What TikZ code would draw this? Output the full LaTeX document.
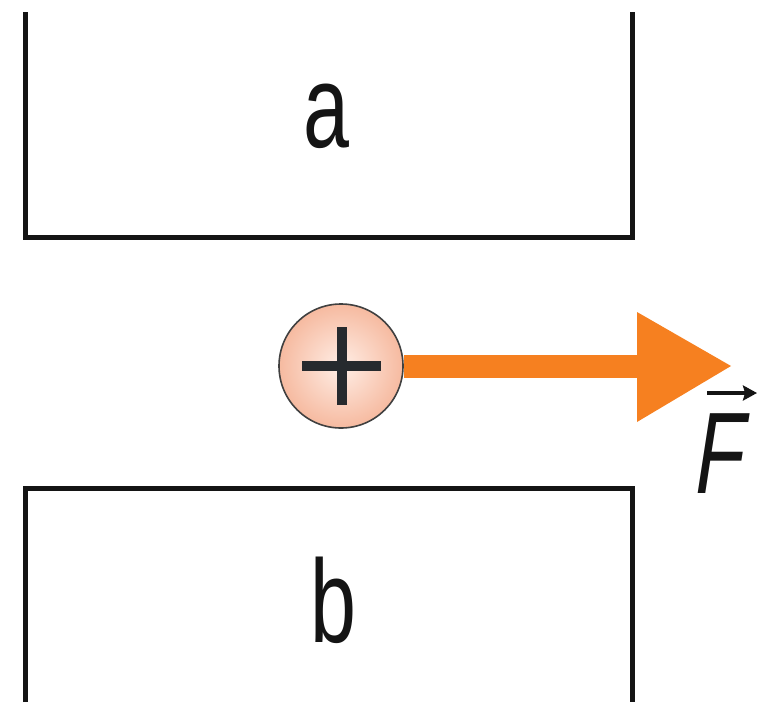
\documentclass[tikz,border=0pt]{standalone}
\usepackage{fontspec}
\setmainfont{Liberation Sans}
\usetikzlibrary{arrows.meta,calc}
\definecolor{forceorange}{RGB}{246,128,32}
\definecolor{chargeedge}{RGB}{246,186,160}
\definecolor{chargecenter}{RGB}{255,238,230}
\definecolor{plateline}{RGB}{20,20,20}
\definecolor{plusgray}{RGB}{38,42,46}
\tikzset{
  plate/.style={draw=plateline, line width=5pt, line join=miter},
  letter/.style={font=\fontsize{118}{118}\selectfont, text=plateline, inner sep=0pt, anchor=base, xscale=0.70},
  charge/.style={circle, minimum size=124pt, inner sep=0pt, draw=black!75, line width=1.6pt,
    inner color=chargecenter, outer color=chargeedge},
  plusbar/.style={draw=plusgray, line width=10pt},
  forcelabel/.style={font=\fontsize{116}{116}\selectfont, text=plateline, inner sep=0pt, anchor=base, xscale=0.70, xslant=0.22}
}
\begin{document}
\begin{tikzpicture}[x=1pt,y=-1pt]
\useasboundingbox (0,0) rectangle (767,712);
% plates
\draw[plate] (25,12) -- (25,237) -- (632,237) -- (632,12);
\draw[plate] (25,702) -- (25,488) -- (632,488) -- (632,702);
\node[letter] (a) at (326,147) {a};
\node[letter] (b) at (333,642) {b};
% charge
\node[charge] (q) at (341,366) {};
\draw[plusbar] (302,366) -- (381,366);
\draw[plusbar] (342,327) -- (342,405);
% force arrow
\coordinate (shaftend) at (640,366);
\fill[forceorange] (q.east) ++(0,-11.5) rectangle ($(shaftend)+(0,11.5)$);
\fill[forceorange] (637,312) -- (731,366) -- (637,422) -- cycle;
% label
\node[forcelabel] (F) at (716,493) {F};
\coordinate (vs) at (707,393);
\coordinate (ve) at (757,393);
\draw[line width=3.8pt, draw=plateline, -{Stealth[length=14pt,width=15pt,inset=2pt]}] (vs) -- (ve);
\end{tikzpicture}
\end{document}
